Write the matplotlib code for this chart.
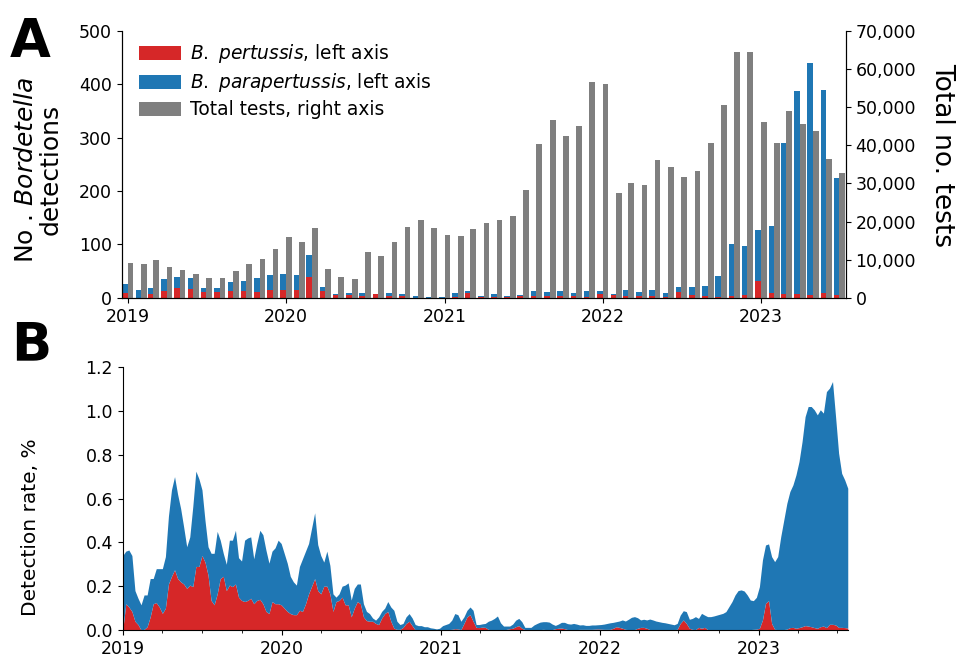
import pandas as pd
import matplotlib
matplotlib.use("Agg")
import matplotlib.pyplot as plt
import matplotlib.dates as mdates
from matplotlib.ticker import FuncFormatter

# Panel A: monthly counts, Jan 2019 - Jul 2023
months = pd.date_range("2019-01-01", periods=55, freq="MS")
pertussis = [9, 0, 8, 12, 18, 16, 11, 11, 12, 12, 11, 14,
             14, 14, 39, 12, 6, 6, 4, 7, 3, 4, 0, 0,
             0, 1, 9, 2, 1, 2, 3, 3, 3, 4, 3, 2,
             7, 6, 3, 3, 3, 1, 11, 6, 3, 2, 3, 5,
             32, 10, 7, 7, 6, 10, 6]
parapertussis = [17, 14, 11, 24, 21, 21, 8, 8, 18, 19, 27, 29,
                 30, 28, 42, 8, 2, 3, 6, 1, 7, 4, 3, 1,
                 2, 8, 3, 2, 7, 2, 3, 10, 8, 8, 6, 11,
                 5, 1, 12, 8, 11, 8, 10, 14, 19, 39, 97, 93,
                 96, 124, 283, 380, 434, 379, 218]
total_tests = [9100, 9000, 10000, 8100, 7400, 6200, 5200, 5100, 7100, 9000, 10200, 12800,
               15900, 14700, 18300, 7500, 5400, 4900, 12100, 11000, 14700, 18500, 20400, 18300,
               16600, 16100, 18100, 19700, 20500, 21400, 28300, 40400, 46600, 42500, 45000, 56700,
               56100, 27500, 30200, 29700, 36200, 34200, 31800, 33400, 40600, 50700, 64600, 64600,
               46000, 40600, 49000, 45600, 43700, 36300, 32800]

# Panel B: weekly detection rate (%), from 2019-01-01
rate_total = [
    0.34, 0.36, 0.365, 0.34, 0.18, 0.145, 0.115, 0.16, 0.16, 0.235,
    0.235, 0.28, 0.28, 0.28, 0.335, 0.52, 0.64, 0.70, 0.62, 0.555,
    0.47, 0.38, 0.425, 0.565, 0.725, 0.69, 0.64, 0.50, 0.38, 0.35,
    0.35, 0.45, 0.41, 0.35, 0.30, 0.41, 0.41, 0.455, 0.33, 0.315,
    0.41, 0.42, 0.425, 0.325, 0.395, 0.455, 0.435, 0.365, 0.305, 0.36,
    0.375, 0.41, 0.395, 0.35, 0.305, 0.245, 0.22, 0.205, 0.29, 0.325,
    0.36, 0.395, 0.465, 0.535, 0.39, 0.34, 0.31, 0.36, 0.295, 0.165,
    0.15, 0.165, 0.2, 0.205, 0.215, 0.137, 0.19, 0.21, 0.21, 0.12,
    0.085, 0.075, 0.055, 0.045, 0.06, 0.085, 0.1, 0.13, 0.105, 0.09,
    0.04, 0.025, 0.03, 0.06, 0.075, 0.055, 0.025, 0.02, 0.02, 0.015,
    0.015, 0.01, 0.008, 0.005, 0.008, 0.02, 0.025, 0.03, 0.045, 0.075,
    0.07, 0.04, 0.06, 0.09, 0.105, 0.09, 0.025, 0.025, 0.028, 0.03,
    0.04, 0.045, 0.053, 0.064, 0.033, 0.018, 0.018, 0.018, 0.027, 0.045,
    0.053, 0.038, 0.012, 0.012, 0.012, 0.023, 0.03, 0.036, 0.038, 0.038,
    0.036, 0.027, 0.021, 0.027, 0.035, 0.035, 0.029, 0.027, 0.03, 0.027,
    0.023, 0.024, 0.021, 0.021, 0.023, 0.023, 0.024, 0.025, 0.027, 0.03,
    0.033, 0.035, 0.038, 0.041, 0.046, 0.041, 0.049, 0.058, 0.061, 0.056,
    0.046, 0.049, 0.046, 0.05, 0.046, 0.041, 0.038, 0.035, 0.033, 0.03,
    0.027, 0.024, 0.03, 0.068, 0.088, 0.084, 0.049, 0.053, 0.061, 0.053,
    0.076, 0.068, 0.061, 0.061, 0.064, 0.068, 0.072, 0.076, 0.084, 0.107,
    0.13, 0.16, 0.18, 0.183, 0.178, 0.16, 0.137, 0.134, 0.149, 0.198,
    0.32, 0.388, 0.393, 0.335, 0.312, 0.335, 0.426, 0.502, 0.578, 0.632,
    0.662, 0.708, 0.769, 0.86, 0.974, 1.02, 1.02, 1.005, 0.982, 1.005,
    0.99, 1.088, 1.104, 1.134, 0.974, 0.807, 0.715, 0.685, 0.647,
]
rate_pertussis = [
    0.0, 0.12, 0.105, 0.085, 0.04, 0.025, 0.0, 0.003, 0.015, 0.06,
    0.12, 0.125, 0.105, 0.076, 0.1, 0.21, 0.245, 0.275, 0.235, 0.22,
    0.21, 0.19, 0.205, 0.198, 0.29, 0.29, 0.34, 0.31, 0.25, 0.135,
    0.115, 0.165, 0.235, 0.245, 0.18, 0.205, 0.198, 0.21, 0.15, 0.135,
    0.13, 0.135, 0.145, 0.12, 0.135, 0.14, 0.12, 0.085, 0.075, 0.13,
    0.12, 0.12, 0.115, 0.1, 0.085, 0.075, 0.07, 0.07, 0.09, 0.085,
    0.12, 0.165, 0.2, 0.235, 0.18, 0.165, 0.2, 0.2, 0.165, 0.085,
    0.13, 0.135, 0.15, 0.115, 0.115, 0.06, 0.1, 0.13, 0.12, 0.06,
    0.043, 0.04, 0.04, 0.03, 0.025, 0.055, 0.075, 0.085, 0.04, 0.008,
    0.003, 0.003, 0.012, 0.03, 0.04, 0.02, 0.0, 0.0, 0.0, 0.0,
    0.0, 0.0, 0.0, 0.0, 0.0, 0.0, 0.002, 0.002, 0.003, 0.006,
    0.005, 0.002, 0.03, 0.06, 0.07, 0.04, 0.012, 0.011, 0.013, 0.012,
    0.003, 0.001, 0.001, 0.001, 0.001, 0.0, 0.003, 0.006, 0.008, 0.015,
    0.02, 0.008, 0.002, 0.002, 0.002, 0.002, 0.002, 0.002, 0.003, 0.002,
    0.002, 0.002, 0.006, 0.008, 0.009, 0.006, 0.002, 0.002, 0.002, 0.002,
    0.003, 0.003, 0.003, 0.003, 0.003, 0.004, 0.005, 0.004, 0.003, 0.003,
    0.003, 0.008, 0.015, 0.012, 0.008, 0.003, 0.002, 0.002, 0.002, 0.008,
    0.012, 0.012, 0.008, 0.002, 0.002, 0.002, 0.002, 0.002, 0.002, 0.002,
    0.002, 0.002, 0.003, 0.03, 0.046, 0.03, 0.008, 0.003, 0.002, 0.012,
    0.008, 0.012, 0.002, 0.002, 0.002, 0.002, 0.002, 0.002, 0.002, 0.002,
    0.002, 0.002, 0.002, 0.002, 0.002, 0.002, 0.002, 0.003, 0.004, 0.008,
    0.046, 0.122, 0.134, 0.03, 0.003, 0.002, 0.002, 0.002, 0.004, 0.011,
    0.012, 0.008, 0.011, 0.015, 0.02, 0.018, 0.015, 0.011, 0.008, 0.015,
    0.018, 0.011, 0.026, 0.026, 0.023, 0.012, 0.012, 0.011, 0.009,
]
weeks = pd.date_range("2019-01-01", periods=len(rate_total), freq="7D")

RED = "#d62728"
BLUE = "#1f77b4"
GRAY = "#7f7f7f"

plt.rcParams["font.family"] = "DejaVu Sans"
plt.rcParams["font.size"] = 12

fig = plt.figure(figsize=(9.59, 6.59), dpi=100)
ax = fig.add_axes([0.127, 0.548, 0.755, 0.405])
ax2 = ax.twinx()
axb = fig.add_axes([0.128, 0.044, 0.756, 0.399])

# ---- Panel A ----
bw = 13  # days
ax.bar(months, pertussis, width=-bw, align="edge", color=RED,
       label=r"$\it{B.\ pertussis}$, left axis")
ax.bar(months, parapertussis, width=-bw, align="edge", bottom=pertussis, color=BLUE,
       label=r"$\it{B.\ parapertussis}$, left axis")
ax2.bar(months, total_tests, width=bw, align="edge", color=GRAY,
        label="Total tests, right axis")

ax.set_ylim(0, 500)
ax2.set_ylim(0, 70000)
ax.set_xlim(pd.Timestamp("2018-12-18"), pd.Timestamp("2023-07-16"))
ax.set_yticks(range(0, 501, 100))
ax2.set_yticks(range(0, 70001, 10000))
ax2.yaxis.set_major_formatter(FuncFormatter(lambda v, p: f"{v:,.0f}"))
ax.xaxis.set_major_locator(mdates.YearLocator())
ax.xaxis.set_major_formatter(mdates.DateFormatter("%Y"))
ax.tick_params(labelsize=12.5)
ax2.tick_params(labelsize=12.5)

ax.set_ylabel("No . $\\it{Bordetella}$\ndetections", fontsize=18, linespacing=1.0)
ax.yaxis.set_label_coords(-0.082, 0.48)
ax2.set_ylabel("Total no. tests", fontsize=19, rotation=270)
ax2.yaxis.set_label_coords(1.151, 0.535)
ax.spines["top"].set_visible(False)
ax2.spines["top"].set_visible(False)

h1, l1 = ax.get_legend_handles_labels()
h2, l2 = ax2.get_legend_handles_labels()
ax2.legend(h1 + h2, l1 + l2, loc="upper left", bbox_to_anchor=(0.0, 1.02),
           frameon=False, fontsize=13.4, handlelength=2.3, handleheight=0.8,
           handletextpad=0.45, labelspacing=0.32)

# ---- Panel B ----
axb.fill_between(weeks, 0, rate_pertussis, color=RED, linewidth=0)
axb.fill_between(weeks, rate_pertussis, rate_total, color=BLUE, linewidth=0)
axb.set_xlim(weeks[0], weeks[-1])
axb.set_ylim(0, 1.2)
axb.set_yticks([0, 0.2, 0.4, 0.6, 0.8, 1.0, 1.2])
axb.xaxis.set_major_locator(mdates.YearLocator())
axb.xaxis.set_minor_locator(mdates.MonthLocator(bymonth=[4, 7, 10]))
axb.xaxis.set_major_formatter(mdates.DateFormatter("%Y"))
axb.tick_params(labelsize=12.5)
axb.set_ylabel("Detection rate, %", fontsize=14.5)
axb.yaxis.set_label_coords(-0.114, 0.39)
axb.spines["top"].set_visible(False)
axb.spines["right"].set_visible(False)

fig.text(0.01, 0.975, "A", fontsize=38, fontweight="bold", va="top")
fig.text(0.012, 0.515, "B", fontsize=38, fontweight="bold", va="top")

fig.savefig("out.png", dpi=100)
